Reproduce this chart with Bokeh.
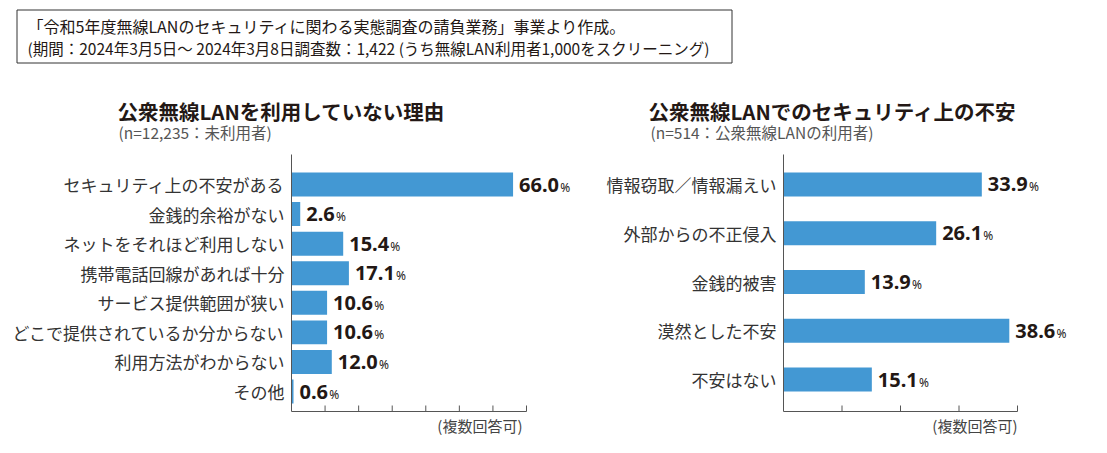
from bokeh.plotting import figure
from bokeh.models import Range1d, FixedTicker, LabelSet, Label, ColumnDataSource
from bokeh.layouts import column, row
from bokeh.core.properties import value
from bokeh.embed import file_html
from bokeh.resources import INLINE

# ---------------- data ----------------
header_line1 = "「令和5年度無線LANのセキュリティに関わる実態調査の請負業務」事業より作成。"
header_line2 = "(期間：2024年3月5日～ 2024年3月8日調査数：1,422 (うち無線LAN利用者1,000をスクリーニング)"

left_title = "公衆無線LANを利用していない理由"
left_subtitle = "(n=12,235：未利用者)"
left_categories = ["セキュリティ上の不安がある", "金銭的余裕がない", "ネットをそれほど利用しない",
                   "携帯電話回線があれば十分", "サービス提供範囲が狭い",
                   "どこで提供されているか分からない", "利用方法がわからない", "その他"]
left_values = [66.0, 2.6, 15.4, 17.1, 10.6, 10.6, 12.0, 0.6]
left_ticks = [0, 10, 20, 30, 40, 50, 60, 70]

right_title = "公衆無線LANでのセキュリティ上の不安"
right_subtitle = "(n=514：公衆無線LANの利用者)"
right_categories = ["情報窃取／情報漏えい", "外部からの不正侵入", "金銭的被害", "漠然とした不安", "不安はない"]
right_values = [33.9, 26.1, 13.9, 38.6, 15.1]
right_ticks = [0, 10, 20, 30, 40]

note_text = "(複数回答可)"

# ---------------- style ----------------
BAR = "#4398D3"
AXIS = "#555555"
TXT = "#231815"
LBL = "#333333"
CJK = "Noto Sans CJK JP"
NUM = "Noto Sans"
NUM_SIZE = 20
DIGIT_W = 0.572 * NUM_SIZE
DOT_W = 0.29 * NUM_SIZE

PAGE_W = 1099
HDR_H = 150
CHART_H = 265
FOOT_H = 30
FRAME_TOP = 4
AXIS_H = 257      # pixels from frame top to the x axis line
EXT = 3           # extra pixels of frame below the x axis line
TICK_LEN = 6


def blank(width, height):
    f = figure(width=width, height=height, output_backend="svg", toolbar_location=None, tools="",
               x_range=Range1d(0, width), y_range=Range1d(height, 0),
               min_border=0, min_border_left=0, min_border_right=0,
               min_border_top=0, min_border_bottom=0)
    f.axis.visible = False
    f.grid.visible = False
    f.outline_line_color = None
    return f


def panel(cats, vals, ticks, width, border_left, axis_px, pad_top, pad_bottom, bar_h):
    n = len(cats)
    frame_w = width - border_left
    xmax = ticks[-1] * frame_w / axis_px
    axis_y = n - 1 + pad_bottom
    ppu = AXIS_H / (axis_y + pad_top)
    p = figure(width=width, height=CHART_H, output_backend="svg",
               toolbar_location=None, tools="",
               x_range=Range1d(ticks[0], xmax),
               y_range=Range1d(axis_y + EXT / ppu, -pad_top),
               min_border_left=border_left, min_border_right=0,
               min_border_top=FRAME_TOP,
               min_border_bottom=CHART_H - FRAME_TOP - AXIS_H - EXT)
    p.outline_line_color = None
    p.xgrid.visible = False
    p.ygrid.visible = False
    p.xaxis.visible = False

    idx = list(range(n))
    texts = [f"{v:.1f}" for v in vals]
    pct_dx = [6 + sum(DIGIT_W if ch.isdigit() else DOT_W for ch in t) + 1 for t in texts]
    src = ColumnDataSource(dict(y=idx, v=vals, t=texts, pdx=pct_dx, pct=["%"] * n))

    p.hbar(y="y", right="v", left=0, height=bar_h, source=src,
           fill_color=BAR, line_color=None)

    # x axis line and inward ticks, limited to the tick span
    p.segment(x0=[ticks[0]], x1=[ticks[-1]], y0=[axis_y], y1=[axis_y],
              line_color=AXIS, line_width=1)
    p.segment(x0=ticks, x1=ticks, y0=[axis_y] * len(ticks),
              y1=[axis_y - TICK_LEN / ppu] * len(ticks), line_color=AXIS, line_width=1)

    p.yaxis.ticker = FixedTicker(ticks=idx)
    p.yaxis.bounds = (-pad_top, axis_y)
    p.yaxis.major_label_overrides = {i: c for i, c in enumerate(cats)}
    p.yaxis.major_tick_in = 0
    p.yaxis.major_tick_out = 0
    p.yaxis.minor_tick_in = 0
    p.yaxis.minor_tick_out = 0
    p.yaxis.major_label_standoff = 7
    p.yaxis.major_label_text_font = CJK
    p.yaxis.major_label_text_font_size = "17px"
    p.yaxis.major_label_text_color = LBL
    p.yaxis.axis_line_color = AXIS

    p.add_layout(LabelSet(x="v", y="y", text="t", source=src, x_offset=6, y_offset=-7,
                          text_font=value(NUM), text_font_style="bold",
                          text_font_size=f"{NUM_SIZE}px", text_color=TXT,
                          text_baseline="alphabetic", text_align="left"))
    p.add_layout(LabelSet(x="v", y="y", text="pct", source=src, x_offset="pdx", y_offset=-7,
                          text_font=value(NUM), text_font_size="12px", text_color=TXT,
                          text_baseline="alphabetic", text_align="left"))
    return p


left = panel(left_categories, left_values, left_ticks, 575, 291, 235, 1.015, 0.676, 0.81)
right = panel(right_categories, right_values, right_ticks, 524, 208, 234, 0.615, 0.656, 0.49)

# header with titles
hdr = blank(PAGE_W, HDR_H)
hdr.quad(left=16.5, right=731.5, top=9.5, bottom=62.5, fill_color=None,
         line_color="#333333", line_width=1)
hdr.add_layout(Label(x=27, y=25, text=header_line1, text_font=CJK, text_font_size="16px",
                     text_color=TXT, text_baseline="middle"))
hdr.add_layout(Label(x=27, y=47, text=header_line2, text_font=CJK, text_font_size="15.5px",
                     text_color=TXT, text_baseline="middle"))
for tx, sx, t, s in [(117, 118, left_title, left_subtitle), (648, 650, right_title, right_subtitle)]:
    hdr.add_layout(Label(x=tx, y=110, text=t, text_font=CJK, text_font_style="bold",
                         text_font_size="20.5px", text_color=TXT, text_baseline="middle"))
    hdr.add_layout(Label(x=sx, y=131, text=s, text_font=CJK, text_font_size="15.5px",
                         text_color="#555555", text_baseline="middle"))

# footer notes
foot = blank(PAGE_W, FOOT_H)
for nx in (522, 1017):
    foot.add_layout(Label(x=nx, y=10, text=note_text, text_font=CJK, text_font_size="15px",
                          text_color="#444444", text_baseline="middle", text_align="right"))

layout = column(hdr, row(left, right, spacing=0), foot, spacing=0)
open("out.html", "w").write(file_html(layout, INLINE))
